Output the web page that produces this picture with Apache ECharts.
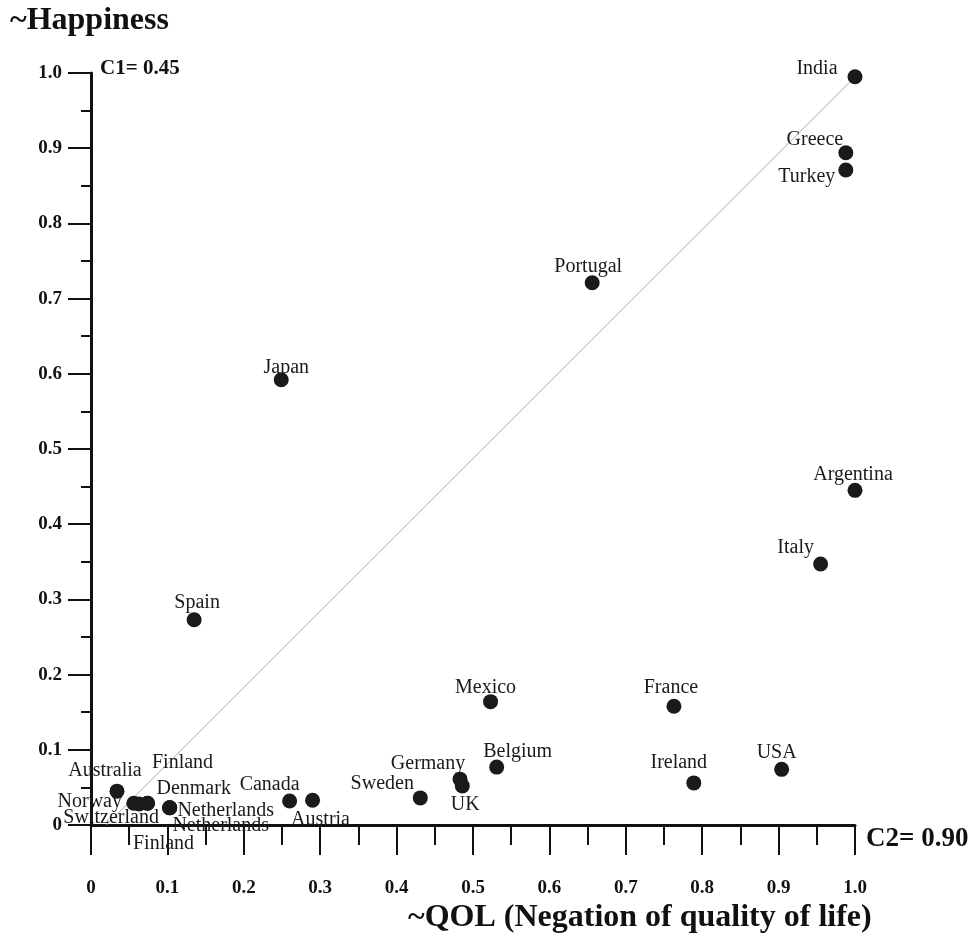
<!DOCTYPE html>
<html>
<head>
<meta charset="utf-8">
<script src="https://cdn.jsdelivr.net/npm/echarts@6/dist/echarts.min.js"></script>
<style>
  html, body { margin: 0; padding: 0; background: #fff; }
  #chart { width: 971px; height: 938px; }
</style>
</head>
<body>
<div id="chart"></div>
<script>
var countries = ['India', 'Greece', 'Turkey', 'Portugal', 'Japan', 'Argentina', 'Italy',
  'Spain', 'Mexico', 'France', 'Belgium', 'USA', 'Ireland', 'Germany', 'UK', 'Sweden',
  'Canada', 'Austria', 'Australia', 'Norway', 'Switzerland', 'Finland', 'Finland',
  'Denmark', 'Netherlands', 'Netherlands'];
var qol = [1.0, 0.988, 0.988, 0.656, 0.249, 1.0, 0.955,
  0.135, 0.523, 0.763, 0.531, 0.904, 0.789, 0.483, 0.486, 0.431,
  0.260, 0.290, 0.034, 0.056, 0.063, 0.074, 0.074,
  0.103, 0.103, 0.103];
var happiness = [0.995, 0.894, 0.871, 0.721, 0.592, 0.445, 0.347,
  0.273, 0.164, 0.158, 0.077, 0.074, 0.056, 0.061, 0.052, 0.036,
  0.032, 0.033, 0.045, 0.029, 0.028, 0.029, 0.029,
  0.023, 0.023, 0.023];
var xTicks = [0, 1];
var yTicks = [0, 1];
var fitLine = [[0.02, 0], [1.0, 0.995]];

// label offsets from the dot centre, by index
var labelOffsets = [[-38, -8], [-31, -13], [-39, 7], [-4, -16], [5, -12], [-2, -16], [-25, -16],
  [3, -17], [-5, -14], [-3, -18], [21, -15], [-5, -17], [-15, -20], [-32, -15], [3, 19], [-38, -14],
  [-20, -16], [8, 20], [-12, -20], [-44, -1], [-28, 14], [35, -40], [16, 41],
  [24, -19], [56, 3], [51, 18]];

var serif = '"Liberation Serif", "DejaVu Serif", serif';

var points = countries.map(function each(name, i) {
  return {
    name: name,
    value: [qol[i], happiness[i]],
    label: { offset: labelOffsets[i] }
  };
});

var myChart = echarts.init(document.getElementById('chart'));
var option = {
  animation: false,
  grid: { left: 91, right: 116, top: 73, bottom: 113 },
  xAxis: {
    type: 'value',
    min: xTicks[0],
    max: xTicks[1],
    interval: 0.1,
    axisLine: { lineStyle: { color: '#111', width: 3 } },
    axisTick: { show: true, length: 30, lineStyle: { color: '#111', width: 2 } },
    minorTick: { show: true, splitNumber: 2, length: 20, lineStyle: { color: '#111', width: 2 } },
    splitLine: { show: false },
    axisLabel: {
      margin: 54,
      color: '#111',
      fontFamily: serif,
      fontWeight: 'bold',
      fontSize: 19,
      formatter: function fmt(v) { return v === 0 ? '0' : v.toFixed(1); }
    }
  },
  yAxis: {
    type: 'value',
    min: yTicks[0],
    max: yTicks[1],
    interval: 0.1,
    axisLine: { lineStyle: { color: '#111', width: 3 } },
    axisTick: { show: true, length: 23, lineStyle: { color: '#111', width: 2 } },
    minorTick: { show: true, splitNumber: 2, length: 10, lineStyle: { color: '#111', width: 2 } },
    splitLine: { show: false },
    axisLabel: {
      margin: 29,
      color: '#111',
      fontFamily: serif,
      fontWeight: 'bold',
      fontSize: 19,
      formatter: function fmt(v) { return v === 0 ? '0' : v.toFixed(1); }
    }
  },
  graphic: [
    { type: 'text', left: 10, top: 5, style: { text: '~Happiness', fill: '#111', font: 'bold 32px ' + serif } },
    { type: 'text', left: 100, top: 58, style: { text: 'C1= 0.45', fill: '#111', font: 'bold 21px ' + serif } },
    { type: 'text', left: 866, top: 826, style: { text: 'C2= 0.90', fill: '#111', font: 'bold 27px ' + serif } },
    { type: 'text', left: 408, top: 902, style: { text: '~QOL (Negation of quality of life)', fill: '#111', font: 'bold 32px ' + serif } }
  ],
  series: [
    {
      type: 'line',
      data: fitLine,
      symbol: 'none',
      silent: true,
      lineStyle: { color: '#aaa', width: 1 },
      z: 1
    },
    {
      type: 'scatter',
      data: points,
      symbolSize: 15,
      itemStyle: { color: '#1a1a1a', opacity: 1 },
      z: 2,
      label: {
        show: true,
        position: 'inside',
        formatter: '{b}',
        color: '#1a1a1a',
        fontFamily: serif,
        fontSize: 20,
        align: 'center',
        verticalAlign: 'middle'
      }
    }
  ]
};

myChart.setOption(option, true);
</script>
</body>
</html>
